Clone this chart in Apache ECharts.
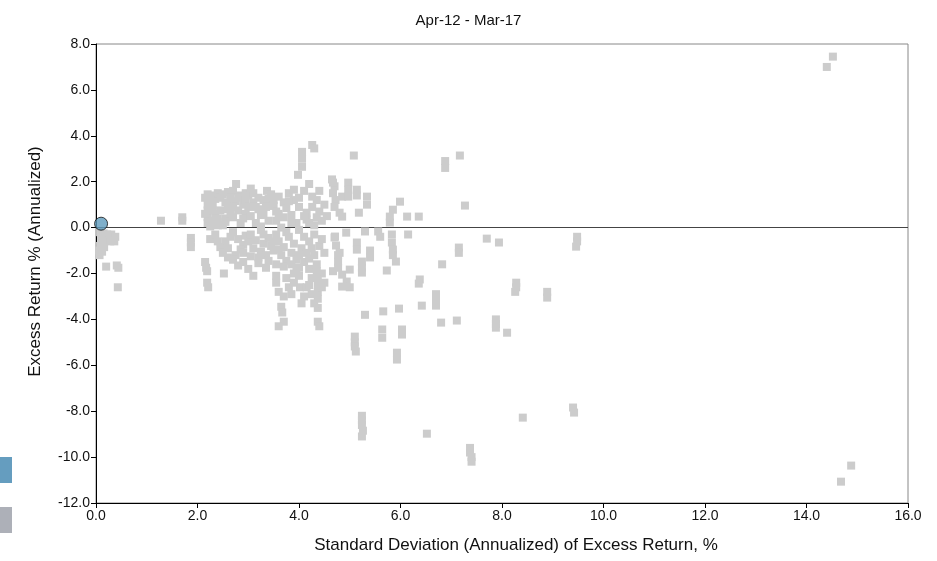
<!DOCTYPE html>
<html>
<head>
<meta charset="utf-8">
<script src="https://cdn.jsdelivr.net/npm/echarts@6/dist/echarts.min.js"></script>
<style>html,body{margin:0;padding:0;background:#fff}#c{width:937px;height:561px}</style>
</head>
<body>
<div id="c"></div>
<script>
const titleText = 'Apr-12 - Mar-17';
const xAxisName = 'Standard Deviation (Annualized) of Excess Return, %';
const yAxisName = 'Excess Return % (Annualized)';
const seriesNames = ['Benchmark', 'Universe'];
const xTicks = [0, 16, 2];
const yTicks = [-12, 8, 2];

const benchmark = [[0.1, 0.17]];

const universe = [
  [0.08,-0.2],[0.15,-0.25],[0.22,-0.3],[0.3,-0.3],[0.38,-0.4],[0.1,-0.5],[0.18,-0.55],[0.28,-0.6],[0.36,-0.6],
  [0.08,-0.8],[0.16,-0.85],[0.06,-1.0],[0.12,-1.05],[0.07,-1.2],[0.2,-1.7],[0.41,-1.65],[0.44,-1.75],[0.43,-2.6],
  [1.28,0.3],[1.7,0.45],[1.7,0.3],[1.87,-0.45],[1.87,-0.65],[1.87,-0.85],
  [2.15,1.3],[2.2,1.45],[2.3,1.4],[2.35,1.25],[2.2,1.0],[2.3,0.95],[2.4,1.5],[2.2,0.75],[2.35,0.6],[2.2,0.45],
  [2.3,0.3],[2.2,0.2],[2.4,0.1],[2.15,0.6],[2.45,1.3],[2.5,1.45],[2.55,1.1],[2.45,0.75],[2.55,0.4],[2.5,0.1],[2.6,0.8],
  [2.25,1.2],[2.3,0.75],[2.25,0.05],[2.4,0.4],[2.6,1.55],[2.6,1.0],[2.65,0.6],[2.55,0.25],
  [2.25,-0.5],[2.15,-1.5],[2.17,-1.75],[2.19,-1.9],[2.19,-2.4],[2.21,-2.6],[2.52,-2.0],[2.45,-0.85],[2.5,-1.1],
  [2.6,-1.3],[2.55,-0.6],[2.35,-0.3],[2.65,-0.4],[2.4,-0.6],[2.6,-0.9],
  [2.7,1.6],[2.76,1.9],[2.85,1.4],[2.75,1.15],[2.8,0.75],[2.65,1.3],[2.9,1.0],[2.7,0.45],[2.85,0.2],[2.95,1.5],[2.95,0.6],
  [2.7,0.9],[2.8,1.3],[2.9,0.4],[2.95,1.2],
  [2.7,-0.2],[2.8,-0.5],[2.9,-0.75],[2.85,-0.95],[2.75,-1.2],[2.7,-1.4],[2.9,-1.5],[3.0,-1.8],[2.8,-1.65],[2.95,-0.35],
  [2.9,-1.1],[3.0,-0.6],
  [3.0,1.4],[3.1,1.1],[3.2,0.8],[3.05,0.5],[3.15,0.2],[3.1,1.5],[3.2,1.3],[3.3,1.2],[3.37,1.6],[3.4,1.25],[3.45,0.95],
  [3.3,0.6],[3.4,0.3],[3.25,0.05],[3.45,1.45],[3.0,0.9],[3.05,1.7],[3.15,0.9],[3.25,0.55],[3.35,0.9],
  [3.25,-0.1],[3.05,-0.3],[3.15,-0.55],[3.3,-0.7],[3.1,-0.9],[3.25,-1.05],[3.4,-0.45],[3.45,-0.8],[3.35,-1.2],
  [3.1,-2.1],[3.2,-1.55],[3.4,-1.45],[3.35,-1.75],[3.05,-1.25],[3.2,-1.3],[3.3,-0.3],
  [3.5,0.95],[3.6,0.6],[3.55,0.3],[3.65,0.0],[3.7,1.1],[3.6,1.35],[3.8,1.5],[3.9,1.2],[4.0,0.9],[3.85,0.55],[3.95,0.2],
  [3.75,0.85],[3.9,1.65],[3.98,2.3],[4.06,2.65],[4.06,3.0],[4.06,3.3],[4.26,3.6],[4.3,3.45],
  [3.5,1.2],[3.55,0.7],[3.7,0.45],[3.8,1.15],[3.85,0.2],
  [3.55,-0.3],[3.6,-0.6],[3.7,-0.85],[3.5,-1.0],[3.65,-1.2],[3.8,-0.4],[3.9,-0.7],[3.75,-1.45],[3.85,-1.1],[3.95,-1.4],
  [3.55,-1.6],[3.55,-2.1],[3.55,-2.4],[3.6,-2.8],[3.75,-2.2],[3.8,-2.6],[3.85,-2.9],[3.7,-3.0],[3.65,-3.45],[3.67,-3.7],
  [3.7,-4.1],[3.6,-4.3],[3.95,-1.8],[3.9,-2.0],[3.5,-0.6],[3.6,-0.95],[3.75,-0.2],[3.7,-1.7],[3.85,-1.6],[3.9,-2.4],
  [4.15,0.65],[4.15,0.35],[4.26,1.35],[4.26,0.9],[4.35,1.2],[4.4,0.7],[4.45,0.3],[4.1,1.6],[4.2,1.9],[4.3,0.1],[4.5,1.0],
  [4.55,0.5],[4.4,1.6],[4.0,1.3],[4.1,0.5],[4.2,0.2],[4.35,0.45],
  [4.0,-0.1],[4.1,-0.4],[4.2,-0.6],[4.3,-0.3],[4.4,-0.8],[4.05,-0.9],[4.15,-1.1],[4.3,-1.2],[4.45,-0.5],[4.5,-1.1],
  [4.0,-1.75],[4.0,-2.1],[4.02,-2.6],[4.1,-1.5],[4.2,-1.8],[4.25,-2.2],[4.35,-1.6],[4.37,-2.2],[4.37,-2.5],[4.37,-2.8],
  [4.37,-3.1],[4.37,-3.5],[4.37,-4.1],[4.4,-4.3],[4.45,-2.0],[4.5,-2.4],[4.15,-2.6],[4.25,-2.9],[4.1,-3.0],
  [4.0,-1.2],[4.2,-1.35],[4.25,-0.9],[4.35,-1.9],[4.45,-2.6],[4.2,-2.5],[4.05,-3.3],[4.3,-3.3],
  [4.65,2.1],[4.7,1.8],[4.67,1.5],[4.72,1.2],[4.67,1.96],[4.85,1.35],[4.97,1.96],[4.97,1.65],[4.97,1.35],[4.8,0.65],
  [4.85,0.48],[4.7,0.9],
  [4.71,-0.39],[4.93,-0.22],[4.7,-0.43],[4.73,-0.78],[4.8,-1.1],[4.77,-1.48],[4.77,-1.2],[4.77,-1.75],[4.67,-1.9],
  [4.94,-2.35],[4.85,-2.57],[4.85,-2.05],[5.0,-2.6],
  [5.08,3.14],[5.14,1.65],[5.14,1.4],[5.34,1.35],[5.34,1.0],[5.18,0.65],[5.3,-0.17],[5.14,-0.65],[5.14,-0.96],[5.4,-1.0],
  [5.4,-1.3],[5.24,-1.48],[5.24,-1.75],[5.24,-1.96],[5.0,-1.83],[5.3,-3.8],[5.1,-4.75],[5.1,-5.0],[5.1,-5.18],[5.12,-5.4],
  [5.24,-8.2],[5.24,-8.4],[5.24,-8.6],[5.26,-8.85],[5.24,-9.1],
  [5.56,-0.17],[5.6,-0.4],[5.83,-0.3],[5.83,-0.65],[5.85,-0.96],[5.85,-1.2],[5.91,-1.48],[5.73,-1.87],[5.99,1.13],
  [5.85,0.78],[5.79,0.48],[5.79,0.22],[6.13,0.48],[6.15,-0.3],[6.36,0.48],[5.66,-3.65],[5.97,-3.53],[5.64,-4.44],
  [5.64,-4.8],[6.03,-4.44],[6.03,-4.66],[5.93,-5.45],[5.93,-5.75],[6.38,-2.26],[6.36,-2.44],[6.42,-3.4],[6.52,-8.98],
  [6.7,-2.9],[6.7,-3.15],[6.7,-3.4],[6.8,-4.14],[6.82,-1.6],[6.88,2.9],[6.88,2.6],[7.11,-4.05],[7.15,-0.87],[7.15,-1.1],
  [7.17,3.14],[7.27,0.96],[7.37,-9.6],[7.37,-9.8],[7.4,-10.0],[7.4,-10.2],[7.7,-0.48],[7.88,-4.0],[7.88,-4.2],[7.88,-4.36],
  [7.94,-0.65],[8.1,-4.58],[8.28,-2.4],[8.28,-2.6],[8.26,-2.8],[8.41,-8.28],[8.89,-2.8],[8.89,-3.05],[9.4,-7.84],
  [9.42,-8.06],[9.48,-0.4],[9.48,-0.6],[9.46,-0.83],[14.4,7.0],[14.52,7.45],[14.68,-11.07],[14.88,-10.37]
];

const font = 'Liberation Sans, Arial, sans-serif';
const chart = echarts.init(document.getElementById('c'), null, {renderer: 'canvas'});
chart.setOption({
  animation: false,
  backgroundColor: '#ffffff',
  title: {
    text: titleText, left: 'center', top: 8,
    textStyle: {fontFamily: font, fontSize: 15, fontWeight: 'normal', color: '#111'}
  },
  legend: {
    orient: 'vertical', left: -17, top: 452,
    itemWidth: 24, itemHeight: 26, itemGap: 24,
    icon: 'rect', formatter: () => '',
    selectedMode: false,
    data: [
      {name: seriesNames[0], itemStyle: {color: '#659dbf', borderWidth: 0, opacity: 1}},
      {name: seriesNames[1], itemStyle: {color: '#adb0b8', borderWidth: 0, opacity: 1}}
    ]
  },
  grid: {left: 96, right: 29, top: 44, bottom: 58, show: true, borderColor: '#888', borderWidth: 1, backgroundColor: 'transparent'},
  xAxis: {
    type: 'value', min: xTicks[0], max: xTicks[1], interval: xTicks[2],
    name: xAxisName, nameLocation: 'middle', nameGap: 34,
    nameTextStyle: {fontFamily: font, fontSize: 17, color: '#111', padding: [0, 0, 0, 28]},
    axisLine: {onZero: false, lineStyle: {color: '#000', width: 1}},
    axisTick: {show: true, inside: false, length: 5, lineStyle: {color: '#000'}},
    axisLabel: {fontFamily: font, fontSize: 14, color: '#111', margin: 6, formatter: v => v.toFixed(1)},
    splitLine: {show: false}
  },
  yAxis: {
    type: 'value', min: yTicks[0], max: yTicks[1], interval: yTicks[2],
    name: yAxisName, nameLocation: 'middle', nameGap: 52,
    nameTextStyle: {fontFamily: font, fontSize: 17, color: '#111', padding: [0, 0, 0, 24]},
    axisLine: {onZero: false, lineStyle: {color: '#000', width: 1}},
    axisTick: {show: true, inside: false, length: 5, lineStyle: {color: '#000'}},
    axisLabel: {fontFamily: font, fontSize: 14, color: '#111', margin: 6, formatter: v => v.toFixed(1)},
    splitLine: {show: false}
  },
  series: [
    {
      name: seriesNames[1], type: 'scatter', data: universe, symbol: 'rect', symbolSize: 8, z: 2,
      itemStyle: {color: '#cccccc', opacity: 1},
      markLine: {
        silent: true, symbol: 'none', z: 1, animation: false,
        label: {show: false},
        lineStyle: {color: '#444', width: 1, type: 'solid'},
        data: [{yAxis: 0}]
      }
    },
    {
      name: seriesNames[0], type: 'scatter', data: benchmark, symbol: 'circle', symbolSize: 13, z: 5,
      itemStyle: {color: '#5f9bbd', borderColor: '#111', borderWidth: 1}
    }
  ]
});
</script>
</body>
</html>
